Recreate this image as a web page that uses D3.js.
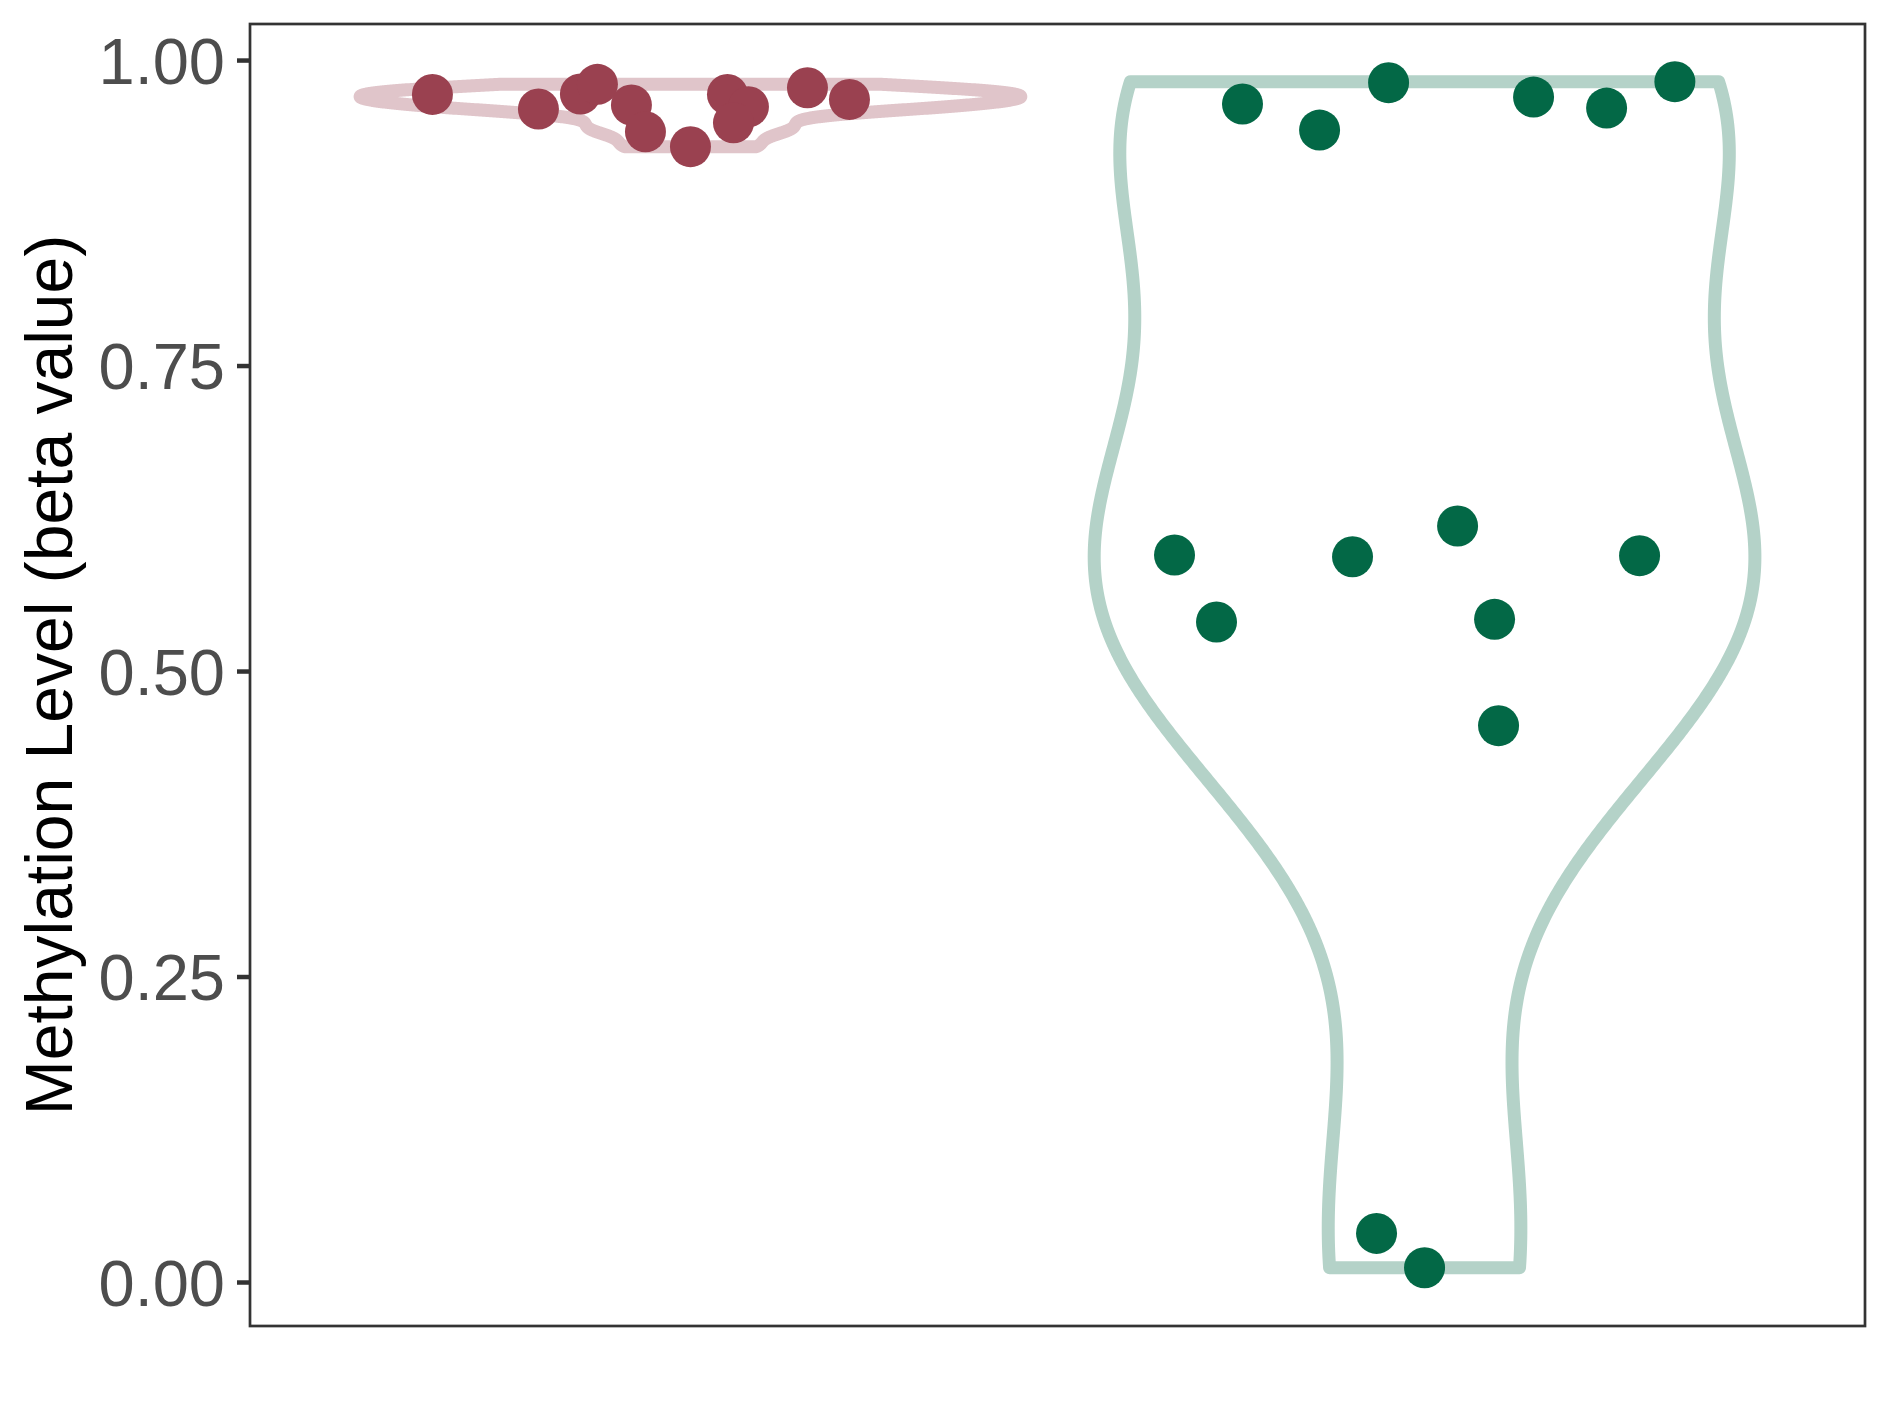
<!DOCTYPE html>
<html>
<head>
<meta charset="utf-8">
<script src="https://cdn.jsdelivr.net/npm/d3@7"></script>
<style>
  html, body { margin: 0; padding: 0; background: #ffffff; }
  svg { display: block; }
</style>
</head>
<body>
<script>
// ---- data ----
const categories = ["Group A", "Group B"];
const groupAValues = [0.9719, 0.9599, 0.9722, 0.9801, 0.9632, 0.9413, 0.9291, 0.9719, 0.9618, 0.9487, 0.9773, 0.9678];
const groupAJitter = [-0.3515, -0.2071, -0.1499, -0.1267, -0.0804, -0.0613, 0.0, 0.0504, 0.0790, 0.0586, 0.1594, 0.2166];
const groupBValues = [0.9640, 0.9427, 0.9815, 0.9697, 0.9607, 0.9823, 0.5949, 0.5401, 0.5935, 0.6187, 0.5423, 0.4553, 0.5944, 0.0398, 0.0117];
const groupBJitter = [-0.2480, -0.1430, -0.0490, 0.1485, 0.2480, 0.3410, -0.3406, -0.2834, -0.0981, 0.0450, 0.0954, 0.1008, 0.2929, -0.0654, 0.0];
const yTicks = [0, 0.25, 0.5, 0.75, 1.0];
const yTickLabels = ["0.00", "0.25", "0.50", "0.75", "1.00"];
const yTitle = "Methylation Level (beta value)";
const violinColors = ["#E0C5CA", "#B4D2C8"];
const pointColors = ["#9A4150", "#036846"];

// ---- layout ----
const W = 1889, H = 1417;
const panel = { left: 250, top: 24, right: 1865, bottom: 1326 };

const svg = d3.select("body").append("svg").attr("width", W).attr("height", H);

const x = d3.scalePoint().domain(categories).range([panel.left, panel.right]).padding(0.6);
const step = x.step();
const y = d3.scaleLinear().domain([-0.036, 1.0295]).range([panel.bottom, panel.top]);

// ---- KDE (ggplot2 stat_ydensity style: gaussian, bw.nrd0, trimmed, n = 512) ----
function quantile7(sorted, p) {
  const h = (sorted.length - 1) * p;
  const lo = Math.floor(h), hi = Math.ceil(h);
  return sorted[lo] + (h - lo) * (sorted[hi] - sorted[lo]);
}
function bwNrd0(vals) {
  const s = vals.slice().sort(d3.ascending);
  const sd = d3.deviation(vals);
  const iqr = quantile7(s, 0.75) - quantile7(s, 0.25);
  let lo = Math.min(sd, iqr / 1.34);
  if (!(lo > 0)) lo = sd || Math.abs(s[0]) || 1;
  return 0.9 * lo * Math.pow(vals.length, -0.2);
}
function kde(vals) {
  const bw = bwNrd0(vals);
  const mn = d3.min(vals), mx = d3.max(vals);
  const n = 512;
  const out = [];
  for (let i = 0; i < n; i++) {
    const t = mn + (mx - mn) * i / (n - 1);
    let s = 0;
    for (const v of vals) { const z = (t - v) / bw; s += Math.exp(-0.5 * z * z); }
    out.push({ y: t, d: s / (vals.length * bw * Math.sqrt(2 * Math.PI)) });
  }
  return out;
}

const groups = [
  { cat: categories[0], values: groupAValues, jitter: groupAJitter, vc: violinColors[0], pc: pointColors[0] },
  { cat: categories[1], values: groupBValues, jitter: groupBJitter, vc: violinColors[1], pc: pointColors[1] }
];

const halfMax = 0.9 * step / 2;

// panel background
svg.append("rect")
  .attr("x", panel.left).attr("y", panel.top)
  .attr("width", panel.right - panel.left).attr("height", panel.bottom - panel.top)
  .attr("fill", "#ffffff");

const plot = svg.append("g");

groups.forEach(g => {
  const dens = kde(g.values);
  const dmax = d3.max(dens, d => d.d);
  const w = d3.scaleLinear().domain([0, dmax]).range([0, halfMax]);
  const cx = x(g.cat);
  const right = dens.map(d => [cx + w(d.d), y(d.y)]);
  const left = dens.slice().reverse().map(d => [cx - w(d.d), y(d.y)]);
  const pts = right.concat(left);
  plot.append("path")
    .attr("d", d3.line()(pts) + "Z")
    .attr("fill", "none")
    .attr("stroke", g.vc)
    .attr("stroke-width", 13)
    .attr("stroke-linejoin", "round");
});

groups.forEach(g => {
  const cx = x(g.cat);
  plot.append("g").selectAll("circle")
    .data(g.values.map((v, i) => ({ v, j: g.jitter[i] })))
    .join("circle")
    .attr("cx", d => cx + d.j * step)
    .attr("cy", d => y(d.v))
    .attr("r", 20.5)
    .attr("fill", g.pc);
});

// panel border
svg.append("rect")
  .attr("x", panel.left).attr("y", panel.top)
  .attr("width", panel.right - panel.left).attr("height", panel.bottom - panel.top)
  .attr("fill", "none").attr("stroke", "#333333").attr("stroke-width", 2.7);

// y axis
const yAxis = d3.axisLeft(y)
  .tickValues(yTicks)
  .tickFormat((d, i) => yTickLabels[i])
  .tickSize(13)
  .tickPadding(12);
const ag = svg.append("g").attr("transform", `translate(${panel.left},0)`).call(yAxis);
ag.select(".domain").remove();
ag.selectAll(".tick line").attr("stroke", "#333333").attr("stroke-width", 4.5);
ag.selectAll(".tick text")
  .attr("fill", "#4D4D4D")
  .attr("font-family", "'Liberation Sans', Arial, Helvetica, sans-serif")
  .attr("font-size", 65)
  .attr("dy", "0.36em");

// y title
svg.append("text")
  .attr("transform", `translate(72, ${(panel.top + panel.bottom) / 2}) rotate(-90)`)
  .attr("text-anchor", "middle")
  .attr("font-family", "'Liberation Sans', Arial, Helvetica, sans-serif")
  .attr("font-size", 66)
  .attr("fill", "#000000")
  .text(yTitle);
</script>
</body>
</html>
